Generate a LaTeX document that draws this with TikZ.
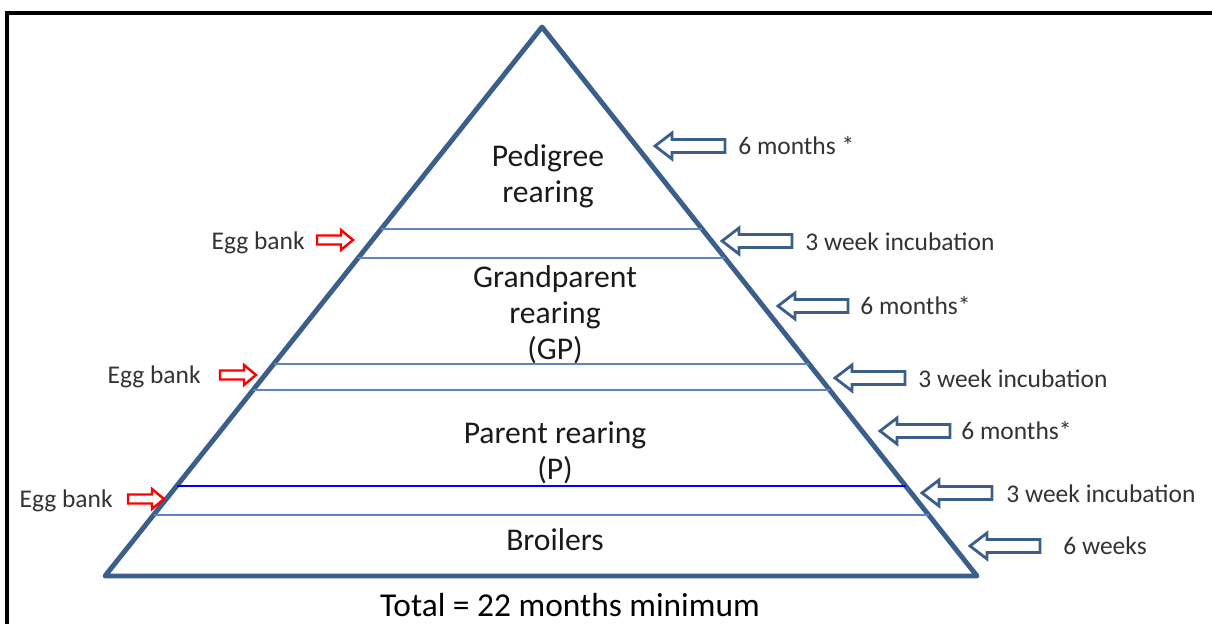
\documentclass[tikz,border=0pt]{standalone}
\usepackage{fontspec}
\setmainfont{Carlito}
\definecolor{pyr}{HTML}{3B5F8A}
\definecolor{band}{HTML}{5B86BF}
\definecolor{txt}{HTML}{1A1A1A}
\definecolor{lbl}{HTML}{333333}
\tikzset{
  x=0.02cm, y=-0.02cm,
  stage/.style={align=center, text=txt, font=\fontsize{18}{20.4}\selectfont, inner sep=0pt},
  note/.style={anchor=west, text=lbl, font=\fontsize{14.5}{16}\selectfont, inner sep=0pt},
  banklbl/.style={anchor=east, text=lbl, font=\fontsize{14.5}{16}\selectfont, inner sep=0pt},
  bandline/.style={draw=band, line width=1.1pt},
  % hollow block arrow pointing left, origin at its tip
  timearrow/.pic={
    \draw[pyr, line width=1.6pt, line join=miter, fill=white]
      (0,0) -- (17,-13) -- (17,-6.5) -- (70,-6.5) -- (70,6.5) -- (17,6.5) -- (17,13) -- cycle;
  },
  % hollow red arrow pointing right, origin at its tip
  bankarrow/.pic={
    \draw[red, line width=1.4pt, line join=miter, fill=white]
      (0,0) -- (-12,-10) -- (-12,-4.5) -- (-36,-4.5) -- (-36,4.5) -- (-12,4.5) -- (-12,10) -- cycle;
  },
}
\begin{document}
\begin{tikzpicture}
\useasboundingbox (0,0) rectangle (1212,624);
% frame
\draw[black, line width=1.8pt] (7,630) -- (7,13) -- (1220,13);

% pyramid outline
\coordinate (apex) at (542,27);
\coordinate (bl) at (105,576);
\coordinate (br) at (977,576);
\draw[pyr, line width=2.8pt, line join=round] (bl) -- (apex) -- (br) -- cycle;

% band lines between stages
\draw[bandline] (381,229) -- (702,229);
\draw[bandline] (358,258) -- (725,258);
\draw[bandline] (274,364) -- (809,364);
\draw[bandline] (253,390) -- (830,390);
\draw[draw=blue, line width=1.1pt] (177,486) -- (906,486);
\draw[bandline] (154,515) -- (929,515);

% stage names
\node[stage] (ped) at (548,176) {Pedigree\\rearing};
\node[stage] (gp) at (555,315) {Grandparent\\rearing\\(GP)};
\node[stage] (par) at (555,453) {Parent rearing\\(P)};
\node[stage] (bro) at (555,540) {Broilers};
\node[stage, text=black, font=\fontsize{19}{22}\selectfont] (total) at (570,605) {Total = 22 months minimum};

% time arrows on the right
\pic (t1) at (655,146) {timearrow};
\node[note] (n1) at (738,146) {6 months *};
\pic (t2) at (722,241) {timearrow};
\node[note] (n2) at (805,242) {3 week incubation};
\pic (t3) at (778,306) {timearrow};
\node[note] (n3) at (860,306) {6 months*};
\pic (t4) at (835,378) {timearrow};
\node[note] (n4) at (918,379) {3 week incubation};
\pic (t5) at (880,431) {timearrow};
\node[note] (n5) at (961,431) {6 months*};
\pic (t6) at (922,493) {timearrow};
\node[note] (n6) at (1006,494) {3 week incubation};
\pic (t7) at (970,546) {timearrow};
\node[note] (n7) at (1063,546) {6 weeks};

% egg bank arrows on the left
\pic (e1) at (353,240) {bankarrow};
\node[banklbl] (b1) at (305,243) {Egg bank};
\pic (e2) at (256,375) {bankarrow};
\node[banklbl] (b2) at (201,377) {Egg bank};
\pic (e3) at (164,499) {bankarrow};
\node[banklbl] (b3) at (113,501) {Egg bank};
\end{tikzpicture}
\end{document}
